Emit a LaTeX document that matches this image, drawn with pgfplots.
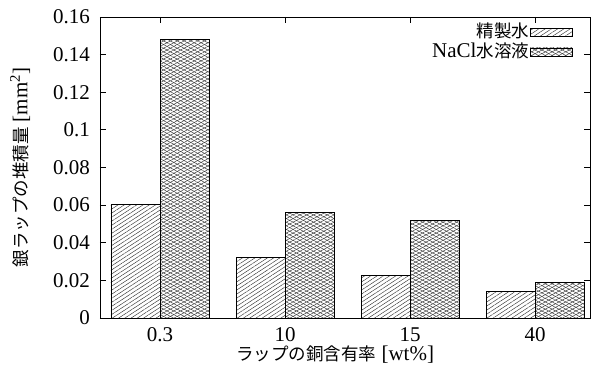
\documentclass[border=0pt]{standalone}
\usepackage{fontspec}
\setmainfont{Liberation Serif}
\newfontfamily\jp{Noto Sans CJK JP}
\newcommand\J[1]{{\fontsize{17.5}{19}\selectfont\jp #1}}
\usepackage{pgfplots}
\pgfplotsset{compat=1.18}
\usetikzlibrary{patterns.meta,calc}
\pgfplotstableread{
x a b
0 0.0605 0.148
1 0.032 0.056
2 0.0225 0.052
3 0.014 0.019
}\datatable
\begin{document}
\fontsize{21}{24}\selectfont
\begin{tikzpicture}
\begin{axis}[
  scale only axis, width=490pt, height=301pt,
  font=\fontsize{21}{24}\selectfont,
  xmin=-0.48, xmax=3.44, ymin=0, ymax=0.16,
  ybar=0pt, bar width=49pt,
  xtick={0,1,2,3}, xticklabels={0.3,10,15,40},
  ytick={0,0.02,0.04,0.06,0.08,0.1,0.12,0.14,0.16},
  yticklabels={0,0.02,0.04,0.06,0.08,0.1,0.12,0.14,0.16},
  tick align=inside, major tick length=6pt,
  axis line style={line width=0.8pt}, every tick/.style={black,line width=0.8pt},
  xticklabel style={yshift=-2pt},
  yticklabel style={xshift=-3pt},
  xlabel={\J{ラップの銅含有率} [wt\%]},
  ylabel={\J{銀ラップの堆積量} [mm\textsuperscript{2}]},
  every axis x label/.style={at={(axis description cs:0.48,0)}, anchor=center, yshift=-37pt},
  every axis y label/.style={at={(axis description cs:-0.163,0.5)}, anchor=center, rotate=90},
  legend style={at={(1,1)}, anchor=north east, xshift=-14pt, yshift=-3pt, draw=none, fill=none,
    row sep=0pt, font=\fontsize{21}{22}\selectfont,
    nodes={inner sep=1pt}},
  legend cell align=right, legend plot pos=right,
  legend image code/.code={\draw[#1,line width=0.8pt] (0pt,-4pt) rectangle (42pt,4pt);},
]
\addplot[draw=black, line width=0.8pt, pattern={Lines[angle=33,distance=3.4pt,line width=0.45pt]}, pattern color=black!80]
  table[x=x,y=a]{\datatable};
\addlegendentry{\J{精製水}}
\addplot[draw=black, line width=0.8pt, pattern={Lines[angle=28,distance=3.2pt,line width=0.45pt]}, pattern color=black!80,
  postaction={pattern={Lines[angle=-28,distance=3.2pt,line width=0.45pt]}, pattern color=black!80}]
  table[x=x,y=b]{\datatable};
\addlegendentry{NaCl\J{水溶液}}
\end{axis}
\path[use as bounding box] ($(current axis.south west)+(-100pt,-51pt)$) rectangle ($(current axis.north east)+(6pt,17pt)$);
\end{tikzpicture}
\end{document}
